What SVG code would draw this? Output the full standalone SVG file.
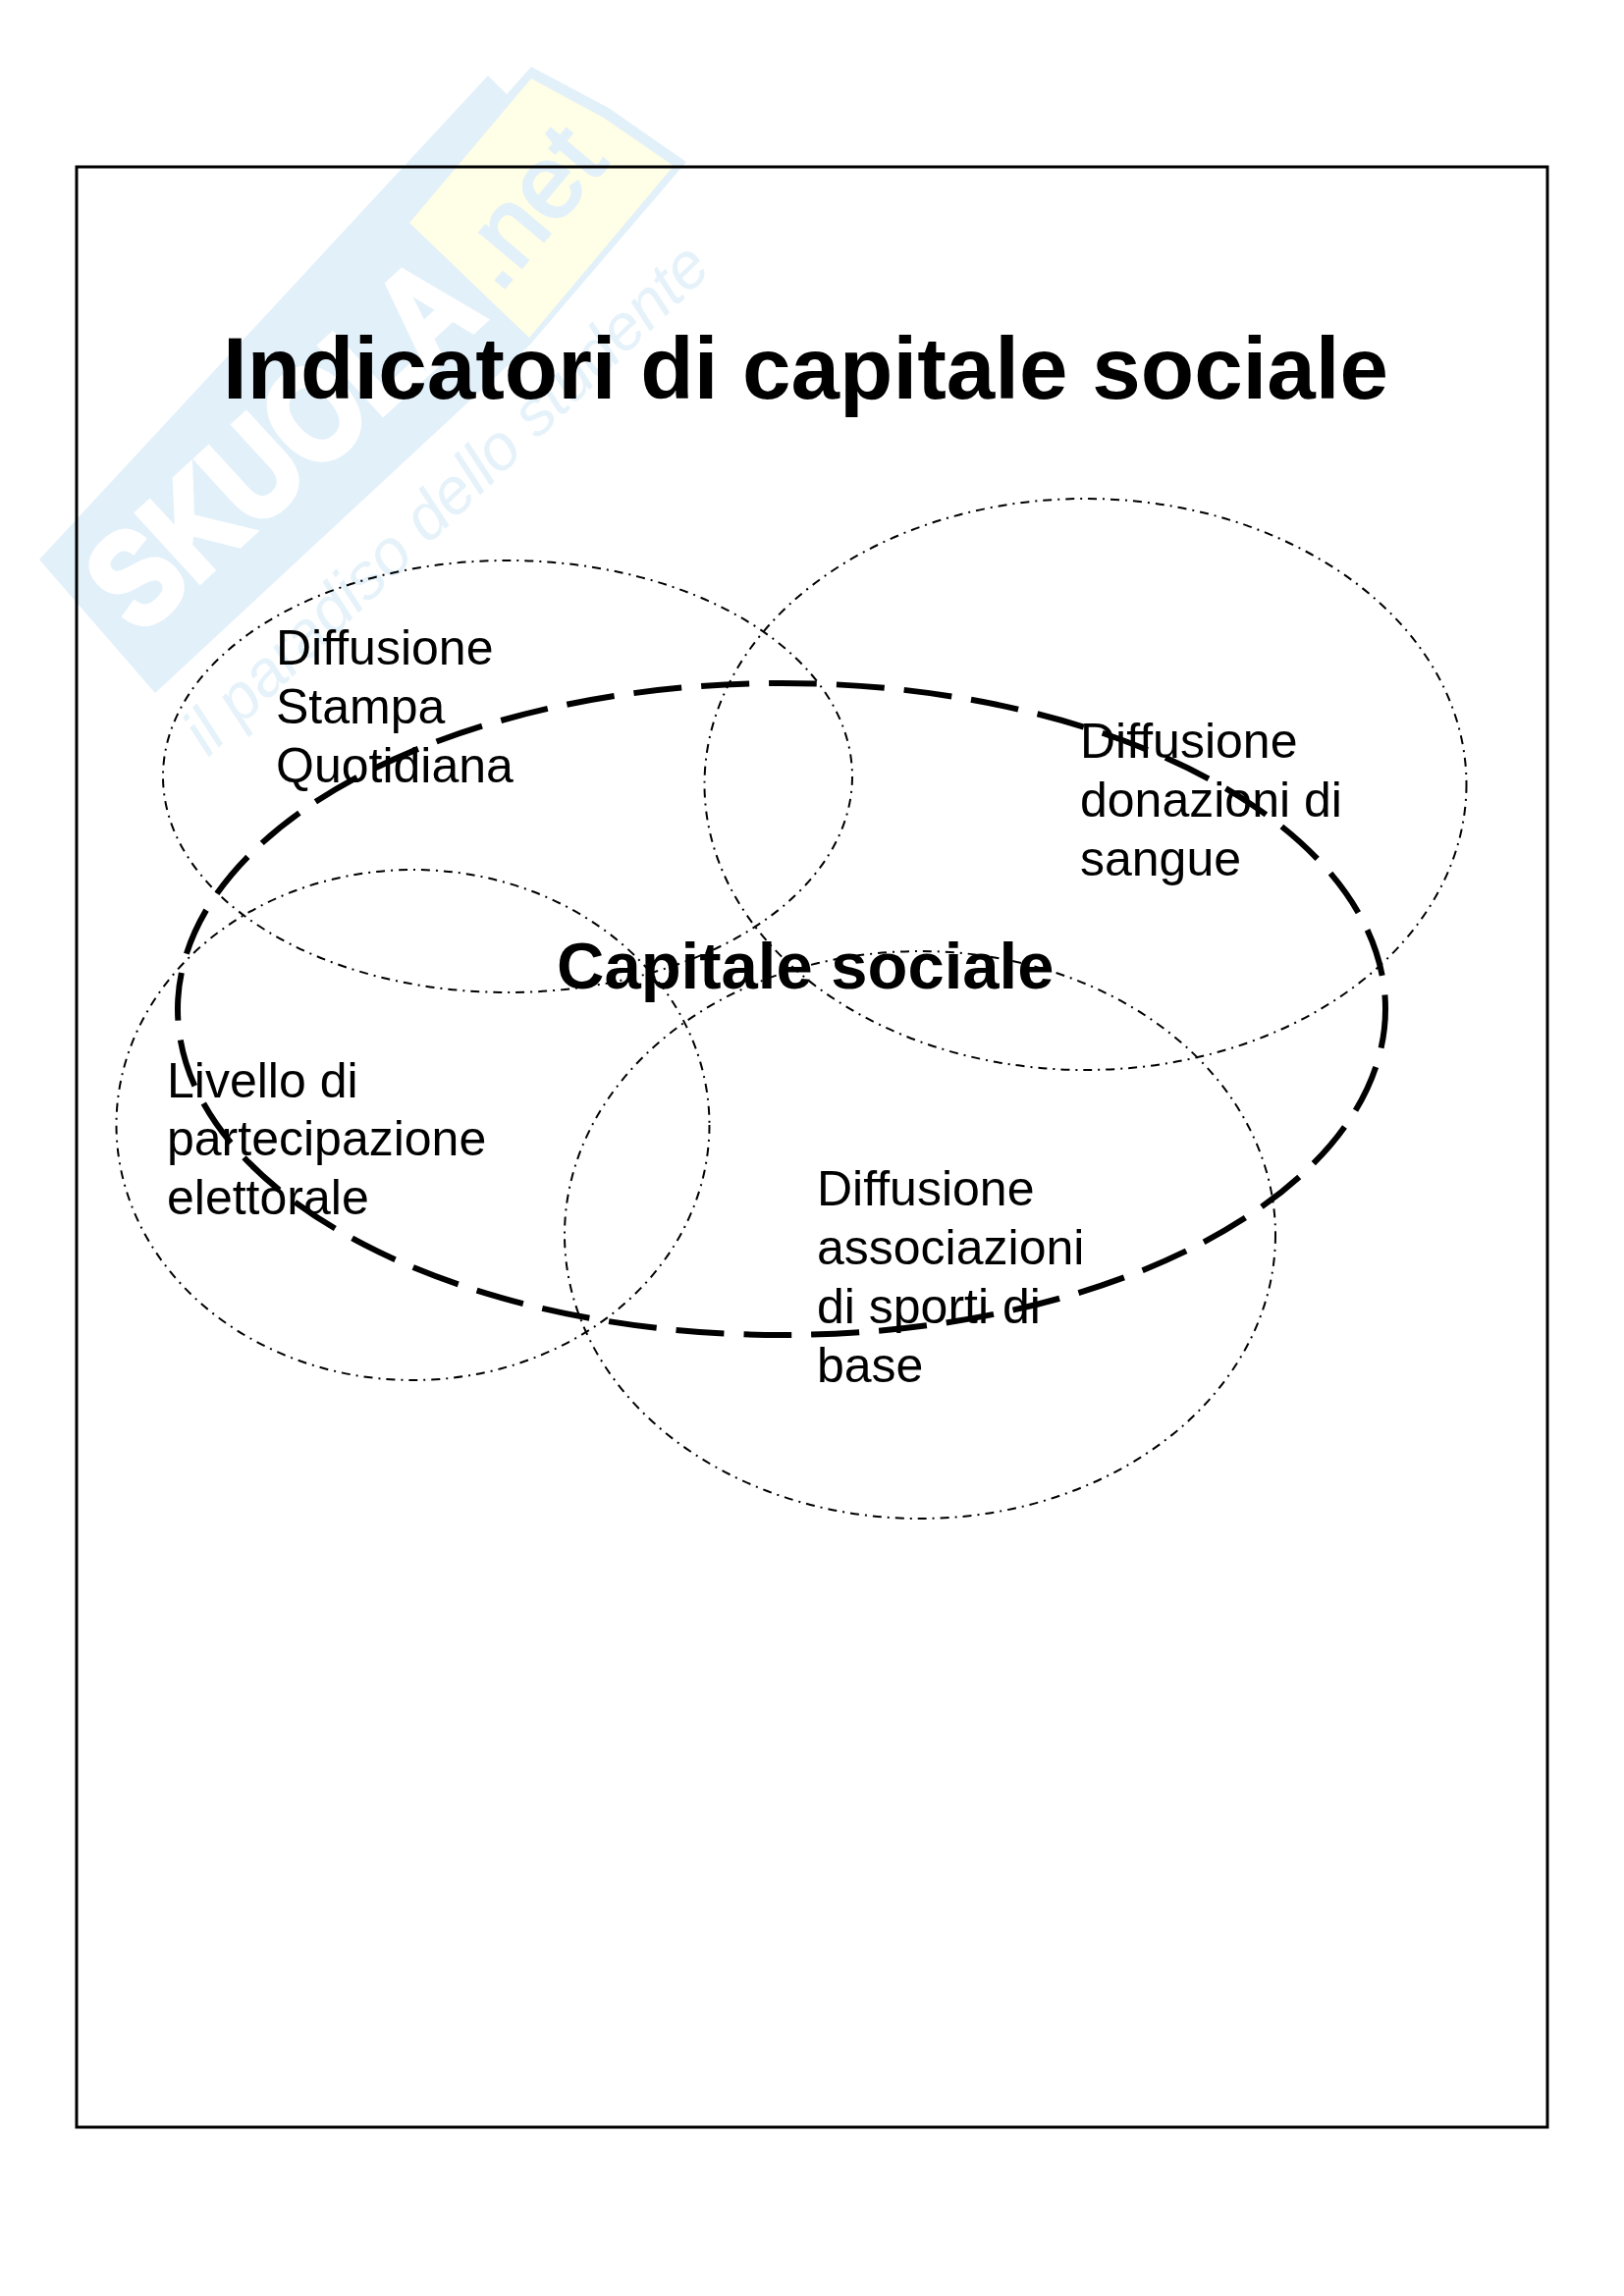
<svg xmlns="http://www.w3.org/2000/svg" width="1654" height="2339" viewBox="0 0 1654 2339">
<style>
text{font-family:"Liberation Sans",Arial,sans-serif;fill:#000}
.lbl{font-size:50px}
.dd{fill:none;stroke:#000;stroke-width:2;stroke-dasharray:9 6 2 6}
</style>
<rect width="1654" height="2339" fill="#fff"/>
<g id="watermark">
<polygon points="40,570 497,77 516,96 541,68 620,110 699,165 539,352 158,706" fill="#e2f0fa"/>
<polygon points="417,227 541,80 615,120 686,169 539,344" fill="#fffee6"/>
<text transform="translate(142,648) rotate(-42.5)" font-size="135" font-weight="700" style="fill:#fff;stroke:#fff;stroke-width:7" textLength="480" lengthAdjust="spacingAndGlyphs">SKUOLA</text>
<text transform="translate(508,300) rotate(-50)" font-size="105" style="fill:#e2f0fa;stroke:#e2f0fa;stroke-width:3" textLength="175" lengthAdjust="spacingAndGlyphs">.net</text>
<text transform="translate(212,772) rotate(-44)" font-size="66" font-style="italic" style="fill:#e6f2fa" textLength="715">il paradiso dello studente</text>
</g>
<rect id="frame" x="78" y="170" width="1498" height="1997" fill="none" stroke="#000" stroke-width="3"/>
<text id="title" x="227" y="406" font-size="89" font-weight="700">Indicatori di capitale sociale</text>
<g id="node-stampa">
<ellipse class="dd" cx="517" cy="791" rx="351" ry="220"/>
<text class="lbl" x="281" y="677">Diffusione</text>
<text class="lbl" x="281" y="737">Stampa</text>
<text class="lbl" x="281" y="797">Quotidiana</text>
</g>
<g id="node-donazioni">
<ellipse class="dd" cx="1105.500" cy="799" rx="388" ry="291"/>
<text class="lbl" x="1100" y="772">Diffusione</text>
<text class="lbl" x="1100" y="832">donazioni di</text>
<text class="lbl" x="1100" y="892">sangue</text>
</g>
<g id="node-partecipazione">
<ellipse class="dd" cx="420.500" cy="1146" rx="302" ry="260"/>
<text class="lbl" x="170" y="1118">Livello di</text>
<text class="lbl" x="170" y="1177">partecipazione</text>
<text class="lbl" x="170" y="1237">elettorale</text>
</g>
<g id="node-sport">
<ellipse class="dd" cx="937" cy="1258" rx="362" ry="289"/>
<text class="lbl" x="832" y="1228">Diffusione</text>
<text class="lbl" x="832" y="1288">associazioni</text>
<text class="lbl" x="832" y="1348">di sporti di</text>
<text class="lbl" x="832" y="1408">base</text>
</g>
<g id="node-capitale">
<ellipse cx="796" cy="1028" rx="615" ry="332" fill="none" stroke="#000" stroke-width="6" stroke-dasharray="49 20" stroke-dashoffset="9"/>
<text x="567" y="1007" font-size="67" font-weight="700">Capitale sociale</text>
</g>
<g id="connectors"/>
</svg>
